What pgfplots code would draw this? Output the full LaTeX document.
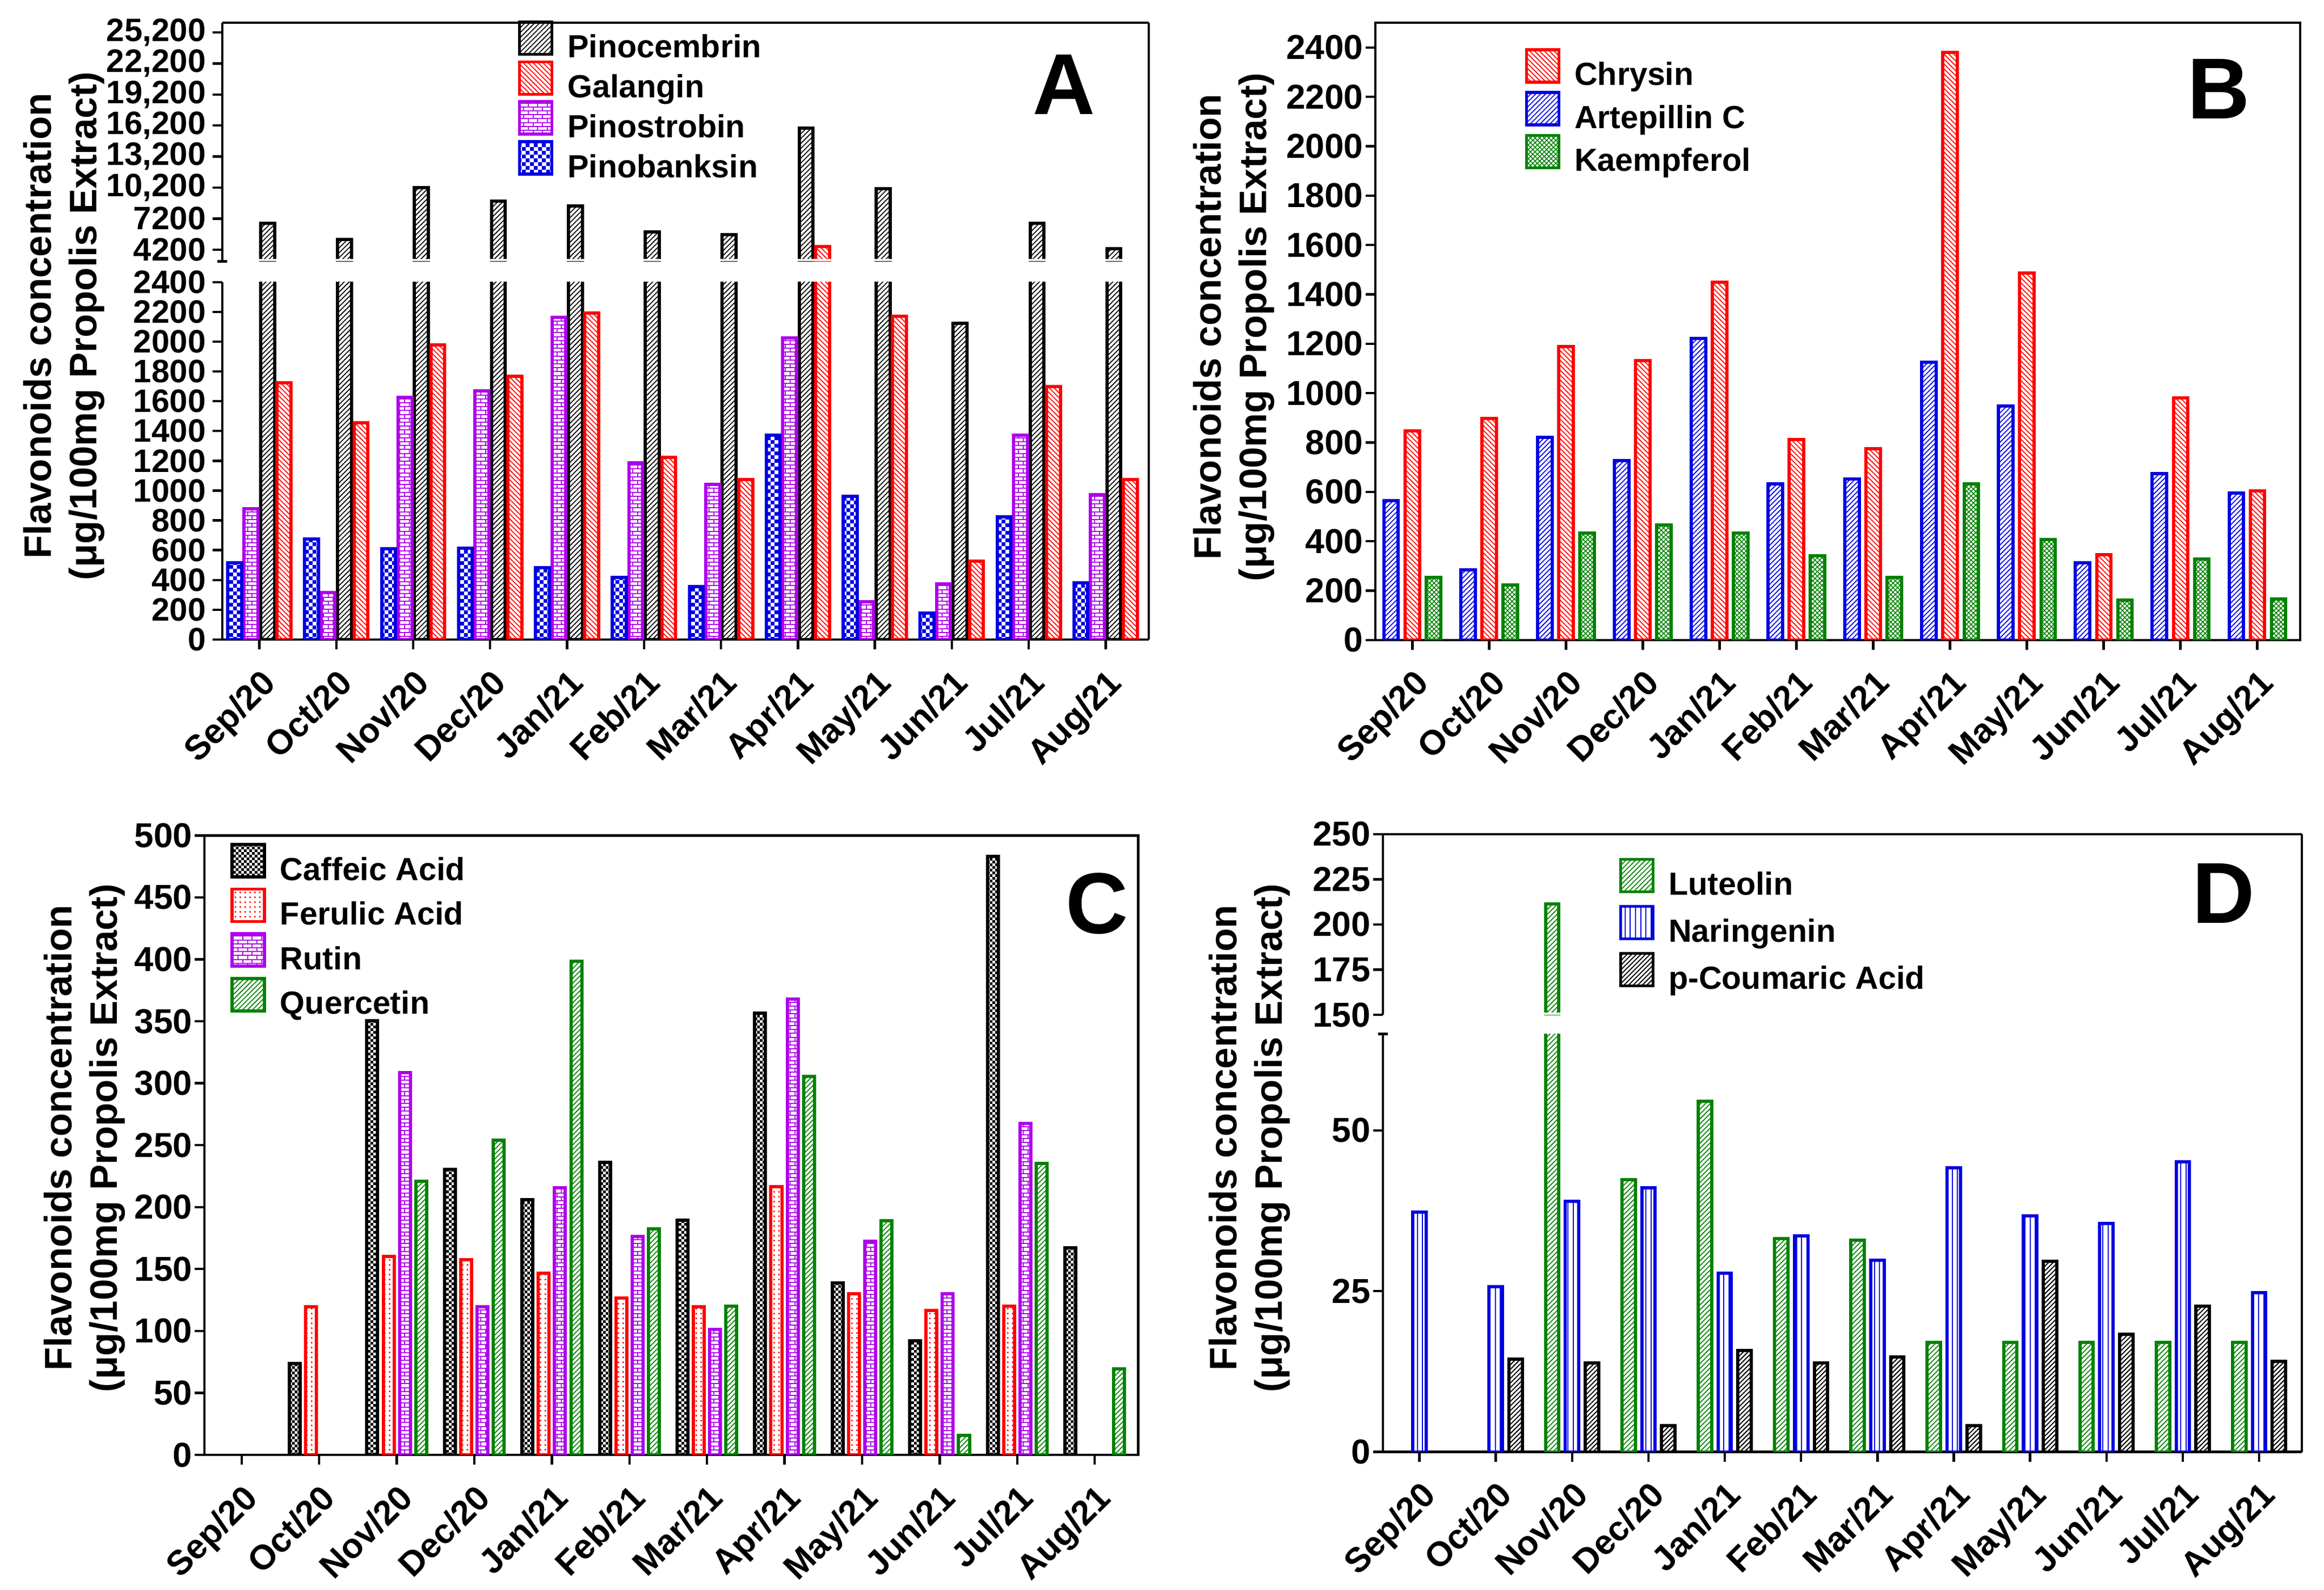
\documentclass[border=0pt]{standalone}
\usepackage{fontspec}
\setmainfont{Liberation Sans}
\usepackage{pgfplots}
\pgfplotsset{compat=1.18}
\usetikzlibrary{patterns,patterns.meta}

\definecolor{cblue}{RGB}{0,0,225}
\definecolor{cred}{RGB}{255,0,0}
\definecolor{cpurple}{RGB}{175,0,235}
\definecolor{cgreen}{RGB}{0,130,0}

\pgfdeclarepatternformonly{mybricks}{\pgfqpoint{-0.3pt}{-0.3pt}}{\pgfqpoint{4.7pt}{3.9pt}}{\pgfqpoint{4.4pt}{3.6pt}}{%
  \pgfsetlinewidth{0.5pt}%
  \pgfpathmoveto{\pgfqpoint{0pt}{0pt}}\pgfpathlineto{\pgfqpoint{4.4pt}{0pt}}%
  \pgfpathmoveto{\pgfqpoint{0pt}{1.8pt}}\pgfpathlineto{\pgfqpoint{4.4pt}{1.8pt}}%
  \pgfpathmoveto{\pgfqpoint{0pt}{0pt}}\pgfpathlineto{\pgfqpoint{0pt}{1.8pt}}%
  \pgfpathmoveto{\pgfqpoint{2.2pt}{1.8pt}}\pgfpathlineto{\pgfqpoint{2.2pt}{3.6pt}}%
  \pgfusepath{stroke}}
\pgfdeclarepatternformonly{mychecker}{\pgfqpoint{0pt}{0pt}}{\pgfqpoint{3.6pt}{3.6pt}}{\pgfqpoint{3.6pt}{3.6pt}}{%
  \pgfpathrectangle{\pgfqpoint{0pt}{0pt}}{\pgfqpoint{1.8pt}{1.8pt}}%
  \pgfpathrectangle{\pgfqpoint{1.8pt}{1.8pt}}{\pgfqpoint{1.8pt}{1.8pt}}%
  \pgfusepath{fill}}
\pgfdeclarepatternformonly{myfinechecker}{\pgfqpoint{0pt}{0pt}}{\pgfqpoint{2.6pt}{2.6pt}}{\pgfqpoint{2.6pt}{2.6pt}}{%
  \pgfpathrectangle{\pgfqpoint{0pt}{0pt}}{\pgfqpoint{1.3pt}{1.3pt}}%
  \pgfpathrectangle{\pgfqpoint{1.3pt}{1.3pt}}{\pgfqpoint{1.3pt}{1.3pt}}%
  \pgfusepath{fill}}
\pgfdeclarepatternformonly{mydots}{\pgfqpoint{0pt}{0pt}}{\pgfqpoint{2.2pt}{2.2pt}}{\pgfqpoint{2.2pt}{2.2pt}}{%
  \pgfpathcircle{\pgfqpoint{1.1pt}{1.1pt}}{0.45pt}\pgfusepath{fill}}

\newcommand{\fA}{\bfseries\fontsize{15}{15}\selectfont}
\newcommand{\fB}{\bfseries\fontsize{16}{17}\selectfont}
\newcommand{\fX}{\bfseries\fontsize{16}{17}\selectfont}
\newcommand{\fLeg}{\bfseries\fontsize{14.8}{16}\selectfont}
\newcommand{\fYl}{\bfseries\fontsize{17.7}{21}\selectfont}
\newcommand{\fLet}{\bfseries\fontsize{40}{40}\selectfont}

\pgfplotsset{
  barleg/.style={legend image code/.code={\draw[##1,line width=1.4pt] (0pt,-2.2pt) rectangle (15pt,12.8pt);}},
  panel/.style={
    scale only axis, ybar, anchor=south west,
    xmin=-0.48, xmax=11.56,
    xtick={0,...,11},
    xticklabels={Sep/20,Oct/20,Nov/20,Dec/20,Jan/21,Feb/21,Mar/21,Apr/21,May/21,Jun/21,Jul/21,Aug/21},
    tick align=outside,
    scaled y ticks=false,
    axis line style={-, line width=1.1pt},
    every inner x axis line/.append style={-},
    every inner y axis line/.append style={-},
    every outer x axis line/.append style={-},
    every outer y axis line/.append style={-},
    every tick/.style={black, line width=1.1pt},
    major tick length=4.5pt,
    /pgf/number format/assume math mode=true,
    /pgf/number format/1000 sep={},
    xticklabel style={yshift=-8pt, rotate=45, anchor=north east, inner sep=0pt, font=\fX},
    yticklabel style={inner sep=1pt},
    every axis plot/.append style={barleg},
  },
  frame/.style={
    scale only axis, anchor=south west, xmin=0, xmax=1, ymin=0, ymax=1,
    xtick=\empty, ytick=\empty,
    axis x line*=top, axis y line*=right,
    axis line style={-, line width=1.1pt},
    every outer x axis line/.append style={-},
    every outer y axis line/.append style={-},
  },
  legs/.style={legend cell align=left,
    legend style={draw=none, fill=none, inner sep=0pt, outer sep=0pt, column sep=6.5pt,
      row sep=#1, font=\fLeg, nodes={inner sep=0pt, text height=11pt, text depth=3.5pt}}},
  sPinoc/.style={draw=black, line width=1.5pt, pattern={Lines[angle=45,distance=1.6pt,line width=0.45pt]}, pattern color=black, barleg},
  sGalan/.style={draw=cred, line width=1.5pt, pattern={Lines[angle=-45,distance=1.6pt,line width=0.45pt]}, pattern color=cred, barleg},
  sPinos/.style={draw=cpurple, line width=1.5pt, pattern=mybricks, pattern color=cpurple, barleg},
  sPinob/.style={draw=cblue, line width=1.5pt, pattern=mychecker, pattern color=cblue, barleg},
  sChry/.style={draw=cred, line width=1.5pt, pattern={Lines[angle=-45,distance=1.6pt,line width=0.45pt]}, pattern color=cred, barleg},
  sArte/.style={draw=cblue, line width=1.5pt, pattern={Lines[angle=45,distance=1.6pt,line width=0.45pt]}, pattern color=cblue, barleg},
  sKaem/.style={draw=cgreen, line width=1.5pt, pattern={Hatch[angle=45,distance=1.5pt,line width=0.4pt]}, pattern color=cgreen, barleg},
  sCaff/.style={draw=black, line width=1.5pt, pattern=myfinechecker, pattern color=black, barleg},
  sFeru/.style={draw=cred, line width=1.5pt, pattern=mydots, pattern color=cred, barleg},
  sRutin/.style={draw=cpurple, line width=1.5pt, pattern=mybricks, pattern color=cpurple, barleg},
  sQuer/.style={draw=cgreen, line width=1.5pt, pattern={Lines[angle=45,distance=1.6pt,line width=0.45pt]}, pattern color=cgreen, barleg},
  sLute/.style={draw=cgreen, line width=1.5pt, pattern={Lines[angle=45,distance=1.6pt,line width=0.45pt]}, pattern color=cgreen, barleg},
  sNari/.style={draw=cblue, line width=1.5pt, pattern={Lines[angle=90,distance=2.4pt,line width=0.5pt]}, pattern color=cblue, barleg},
  sCoum/.style={draw=black, line width=1.5pt, pattern={Lines[angle=45,distance=1.5pt,line width=0.5pt]}, pattern color=black, barleg},
}

\begin{document}
\begin{tikzpicture}
\path (0pt,0pt) rectangle (1074.25pt,735.25pt);

% ================= Panel A =================
\begin{axis}[panel, at={(102.8pt,439.5pt)}, width=428.2pt, height=165.3pt,
  ymin=0, ymax=2400, ytick={0,200,...,2400}, yticklabel style={font=\fA, inner sep=3pt},
  axis x line*=bottom, axis y line*=left, bar width=0.18]
\addplot[sPinoc, bar shift=0.107] coordinates {(0,6760) (1,5170) (2,10190) (3,8880) (4,8400) (5,5890) (6,5650) (7,15930) (8,10090) (9,2123) (10,6760) (11,4300)};
\addplot[sGalan, bar shift=0.321] coordinates {(0,1724) (1,1454) (2,1978) (3,1768) (4,2191) (5,1224) (6,1075) (7,4500) (8,2170) (9,527) (10,1700) (11,1075)};
\addplot[sPinos, bar shift=-0.107] coordinates {(0,879) (1,314) (2,1626) (3,1670) (4,2164) (5,1187) (6,1041) (7,2025) (8,254) (9,372) (10,1373) (11,974)};
\addplot[sPinob, bar shift=-0.321] coordinates {(0,517) (1,676) (2,608) (3,612) (4,483) (5,416) (6,355) (7,1373) (8,963) (9,179) (10,825) (11,382)};
\end{axis}
\begin{axis}[panel, at={(102.8pt,614.4pt)}, width=428.2pt, height=110.4pt,
  ymin=3070, ymax=26150, ytick={4200,7200,...,25200},
  yticklabels={4200,7200,{10,200},{13,200},{16,200},{19,200},{22,200},{25,200}},
  yticklabel style={font=\fA, inner sep=3pt},
  extra y ticks={3070}, extra y tick labels={}, extra y tick style={tick align=center},
  axis x line=none, axis y line*=left, xtick=\empty, bar width=0.18,
  legs=-2.3pt, legend style={at={(axis description cs:0.319,1.009)}, anchor=north west}]
\addplot[sPinoc, bar shift=0.107] coordinates {(0,6760) (1,5170) (2,10190) (3,8880) (4,8400) (5,5890) (6,5650) (7,15930) (8,10090) (10,6760) (11,4300)};
\addplot[sGalan, bar shift=0.321] coordinates {(7,4500)};
\addlegendimage{sPinos}
\addlegendimage{sPinob}
\fill[white] ([xshift=3pt]rel axis cs:0,0) rectangle ([yshift=1pt]rel axis cs:1,0);
\legend{Pinocembrin,Galangin,Pinostrobin,Pinobanksin}
\end{axis}
\begin{axis}[frame, at={(102.8pt,439.5pt)}, width=428.2pt, height=285.3pt]
\end{axis}
\node[rotate=90, align=center, font=\fYl] at (29.5pt,584.5pt) {Flavonoids concentration\\(μg/100mg Propolis Extract)};
\node[font=\fLet, inner sep=0pt] at (491.9pt,696.2pt) {A};

% ================= Panel B =================
\begin{axis}[panel, at={(635.8pt,439.3pt)}, width=427.5pt, height=285.4pt,
  ymin=0, ymax=2500, ytick={0,200,...,2400}, yticklabel style={font=\fB},
  xtick pos=bottom, ytick pos=left, bar width=0.185,
  legs=-0.9pt, legend style={at={(axis description cs:0.1616,0.959)}, anchor=north west}]
\addplot[sChry, bar shift=0] coordinates {(0,848) (1,897) (2,1189) (3,1132) (4,1449) (5,812) (6,775) (7,2380) (8,1487) (9,345) (10,980) (11,605)};
\addplot[sArte, bar shift=-0.275] coordinates {(0,564) (1,284) (2,820) (3,726) (4,1221) (5,633) (6,651) (7,1126) (8,947) (9,312) (10,674) (11,596)};
\addplot[sKaem, bar shift=0.275] coordinates {(0,254) (1,223) (2,434) (3,467) (4,434) (5,341) (6,254) (7,633) (8,406) (9,162) (10,327) (11,166)};
\legend{Chrysin,Artepillin C,Kaempferol}
\end{axis}
\node[rotate=90, align=center, font=\fYl] at (570.3pt,584pt) {Flavonoids concentration\\(μg/100mg Propolis Extract)};
\node[font=\fLet, inner sep=0pt] at (1025.6pt,694.1pt) {B};

% ================= Panel C =================
\begin{axis}[panel, at={(94.5pt,62.5pt)}, width=431.6pt, height=286.4pt,
  ymin=0, ymax=500, ytick={0,50,...,500}, yticklabel style={font=\fB},
  xtick pos=bottom, ytick pos=left, bar width=0.14,
  legs=-0.1pt, legend style={at={(axis description cs:0.028,0.988)}, anchor=north west}]
\addplot[sCaff, bar shift=-0.315] coordinates {(1,73.6) (2,350.4) (3,230.6) (4,206) (5,236.3) (6,189.3) (7,356.5) (8,138.6) (9,92) (10,483.2) (11,167.2)};
\addplot[sFeru, bar shift=-0.105] coordinates {(1,119.4) (2,160.3) (3,157.4) (4,146.8) (5,126.7) (6,119.4) (7,216.3) (8,130) (9,116.5) (10,120.2)};
\addplot[sRutin, bar shift=0.105] coordinates {(2,308.7) (3,119.4) (4,215.5) (5,176.2) (6,101.4) (7,368) (8,172.5) (9,130) (10,267.4)};
\addplot[sQuer, bar shift=0.315] coordinates {(2,220.8) (3,253.9) (4,398.6) (5,182.3) (6,120.2) (7,305.4) (8,188.9) (9,15.9) (10,235.1) (11,69.5)};
\legend{Caffeic Acid,Ferulic Acid,Rutin,Quercetin}
\end{axis}
\node[rotate=90, align=center, font=\fYl] at (39.0pt,209pt) {Flavonoids concentration\\(μg/100mg Propolis Extract)};
\node[font=\fLet, inner sep=0pt] at (507.0pt,317.3pt) {C};

% ================= Panel D =================
\begin{axis}[panel, at={(639.2pt,63.85pt)}, width=424.8pt, height=193.3pt,
  ymin=0, ymax=65, ytick={0,25,50}, yticklabel style={font=\fB},
  extra y ticks={65}, extra y tick labels={}, extra y tick style={tick align=center},
  axis x line*=bottom, axis y line*=left, bar width=0.175]
\addplot[sLute, bar shift=-0.26] coordinates {(2,211.5) (3,42.3) (4,54.5) (5,33.2) (6,32.9) (7,17.0) (8,17.0) (9,17.0) (10,17.0) (11,17.0)};
\addplot[sNari, bar shift=0] coordinates {(0,37.3) (1,25.7) (2,39.0) (3,41.1) (4,27.8) (5,33.6) (6,29.8) (7,44.2) (8,36.7) (9,35.5) (10,45.1) (11,24.8)};
\addplot[sCoum, bar shift=0.26] coordinates {(1,14.4) (2,13.8) (3,4.1) (4,15.8) (5,13.8) (6,14.8) (7,4.1) (8,29.6) (9,18.3) (10,22.7) (11,14.1)};
\end{axis}
\begin{axis}[panel, at={(639.2pt,265.95pt)}, width=424.8pt, height=83.6pt,
  ymin=150, ymax=250, ytick={150,175,...,250}, yticklabel style={font=\fB},
  axis x line=none, axis y line*=left, xtick=\empty, bar width=0.175,
  legs=1.0pt, legend style={at={(axis description cs:0.257,0.869)}, anchor=north west}]
\addplot[sLute, bar shift=-0.26] coordinates {(2,211.5)};
\addlegendimage{sNari}
\addlegendimage{sCoum}
\fill[white] ([xshift=3pt]rel axis cs:0,0) rectangle ([yshift=1pt]rel axis cs:1,0);
\legend{Luteolin,Naringenin,p-Coumaric Acid}
\end{axis}
\begin{axis}[frame, at={(639.2pt,63.85pt)}, width=424.8pt, height=285.7pt]
\end{axis}
\node[rotate=90, align=center, font=\fYl] at (577.5pt,209pt) {Flavonoids concentration\\(μg/100mg Propolis Extract)};
\node[font=\fLet, inner sep=0pt] at (1027.7pt,322.1pt) {D};

\end{tikzpicture}
\end{document}
